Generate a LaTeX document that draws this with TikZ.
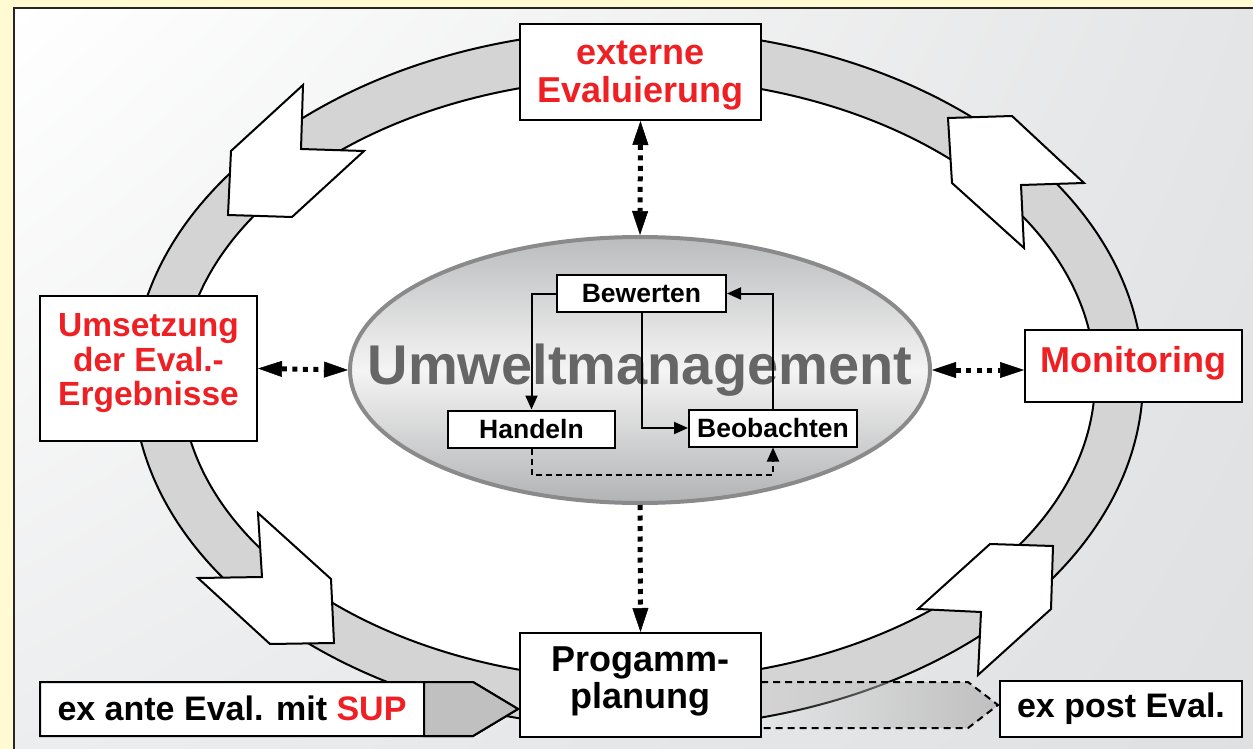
\documentclass[tikz,border=0pt]{standalone}
\usepackage{fontspec}
\setmainfont{Liberation Sans}
\usetikzlibrary{arrows.meta,fadings,shadings,shapes.geometric}
\definecolor{bgyellow}{HTML}{FFFAD2}
\definecolor{evred}{HTML}{EE2024}
\definecolor{ringgray}{HTML}{D4D4D4}
\definecolor{panelTR}{HTML}{E4E5E6}
\definecolor{panelBL}{HTML}{ECEDEE}
\definecolor{panelBR}{HTML}{DFE0E2}
\definecolor{elltop}{HTML}{BBBCBE}
\definecolor{ellmid}{HTML}{F4F4F4}
\definecolor{ellbot}{HTML}{B2B3B5}
\definecolor{ellline}{HTML}{8A8A8A}
\definecolor{umgray}{HTML}{666666}
\definecolor{antegray}{HTML}{C0C0C0}
\tikzset{
  blockarrow/.style={fill=white, draw=black, line width=2pt, line join=miter},
  bigbox/.style={draw=black, line width=2pt, fill=white, inner sep=0pt},
  boxtext/.style={inner sep=0pt, align=center, font=\bfseries\fontsize{36}{37}\selectfont},
  redtext/.style={boxtext, text=evred, font=\bfseries\fontsize{36}{38}\selectfont},
  smallbox/.style={draw=black, line width=2pt, fill=white, inner sep=0pt,
    minimum width=168pt, minimum height=37pt, font=\bfseries\fontsize{26.5}{28}\selectfont},
  inarrow/.style={line width=2pt, -{Triangle[length=14pt,width=12pt]}},
  indash/.style={dash pattern=on 6pt off 4pt},
  dotline/.style={line width=5pt, dash pattern=on 5pt off 5.5pt},
  dottip/.tip={Triangle[length=24pt,width=16pt,line width=0.5pt]},
}
\begin{document}
\begin{tikzpicture}[x=1pt,y=-1pt]
\useasboundingbox (0,0) rectangle (1253,749);
% background
\fill[bgyellow] (0,0) rectangle (1253,749);
\shade[upper left=white, upper right=panelTR, lower left=panelBL, lower right=panelBR]
  (14,8) rectangle (1262,760);
\draw[black!85, line width=2pt] (14,760) -- (14,8) -- (1262,8);
% ring
\draw[fill=ringgray, line width=2pt] (638,379) ellipse [x radius=505pt, y radius=349pt];
\draw[fill=white, line width=2pt] (638,379) ellipse [x radius=457pt, y radius=301pt];
% block arrows on the ring
\draw[blockarrow] (303,85) -- (301,149) -- (364,151) -- (292,217) -- (228,215) -- (231,151) -- cycle;
\draw[blockarrow] (948,118) -- (1012,116) -- (1084,183) -- (1021,185) -- (1024,248) -- (952,183) -- cycle;
\draw[blockarrow] (258,513) -- (262,577) -- (198,578) -- (270,644) -- (334,643) -- (331,579) -- cycle;
\draw[blockarrow] (990,544) -- (1053,546) -- (1051,609) -- (978,675) -- (981,612) -- (918,609) -- cycle;
% outer boxes
\node[bigbox, minimum width=241pt, minimum height=96pt] (ext) at (640.5,72) {};
\node[redtext] (extt) at (640.5,76) {externe\\Evaluierung};
\node[bigbox, minimum width=217pt, minimum height=145pt] (ums) at (148.5,368.5) {};
\node[redtext, font=\bfseries\fontsize{33.5}{34.5}\selectfont] (umst) at (148.5,363.5) {Umsetzung\\der Eval.-\\Ergebnisse};
\node[bigbox, minimum width=217pt, minimum height=72pt] (mon) at (1133.5,366) {};
\node[redtext] (mont) at (1133.5,363) {Monitoring};
\node[bigbox, minimum width=241pt, minimum height=104pt] (prog) at (640.5,685) {};
\node[boxtext] (progt) at (640.5,681) {Progamm-\\planung};
% ex ante
\filldraw[fill=white, line width=2pt, line join=miter] (40,682) -- (473,682) -- (518,709) -- (473,736) -- (40,736) -- cycle;
\filldraw[fill=antegray, line width=2pt, line join=miter] (424,682) -- (473,682) -- (518,709) -- (473,736) -- (424,736) -- cycle;
\node[font=\bfseries\fontsize{34}{36}\selectfont] (exante) at (232,708) {ex ante Eval. mit \textcolor{evred}{SUP}};
% ex post
\fill[antegray, path fading=west] (761,682) -- (968,682) -- (998,705) -- (968,728) -- (761,728) -- cycle;
\draw[line width=2pt, dash pattern=on 7pt off 5pt] (761,682) -- (968,682) -- (998,705) -- (968,728) -- (761,728);
\node[bigbox, font=\bfseries\fontsize{34}{36}\selectfont, minimum width=242pt, minimum height=56pt] (expost) at (1121,709) {ex post Eval.};
% central ellipse
\node[ellipse, draw=ellline, line width=4pt, top color=elltop, bottom color=ellbot, middle color=ellmid,
  minimum width=580pt, minimum height=266pt, inner sep=0pt] (um) at (640,370) {};
\node[anchor=base, text=umgray, font=\bfseries\fontsize{56}{60}\selectfont, inner sep=0pt] (umtxt) at (640,384) {Umweltmanagement};
% inner boxes
\node[smallbox, minimum width=169pt] (bew) at (641.5,293.5) {Bewerten};
\node[smallbox, minimum width=167pt] (han) at (531.5,429) {Handeln};
\node[smallbox] (beo) at (773,428) {Beobachten};
\draw[inarrow] (bew.west) -| (han.north);
\draw[inarrow] (bew.south) |- (beo.west);
\draw[inarrow] (beo.north) |- (bew.east);
\draw[inarrow, indash] (han.south) -- ++(0,26) -| (beo.south);
% dotted double arrows
\draw[dotline, dottip-dottip] (ext.south) -- (um.north);
\draw[dotline, dottip-dottip] (ums.east) -- (um.west);
\draw[dotline, dottip-dottip] (um.east) -- (mon.west |- um.east);
\draw[dotline, -dottip] (um.south) -- (prog.north);
\end{tikzpicture}
\end{document}
